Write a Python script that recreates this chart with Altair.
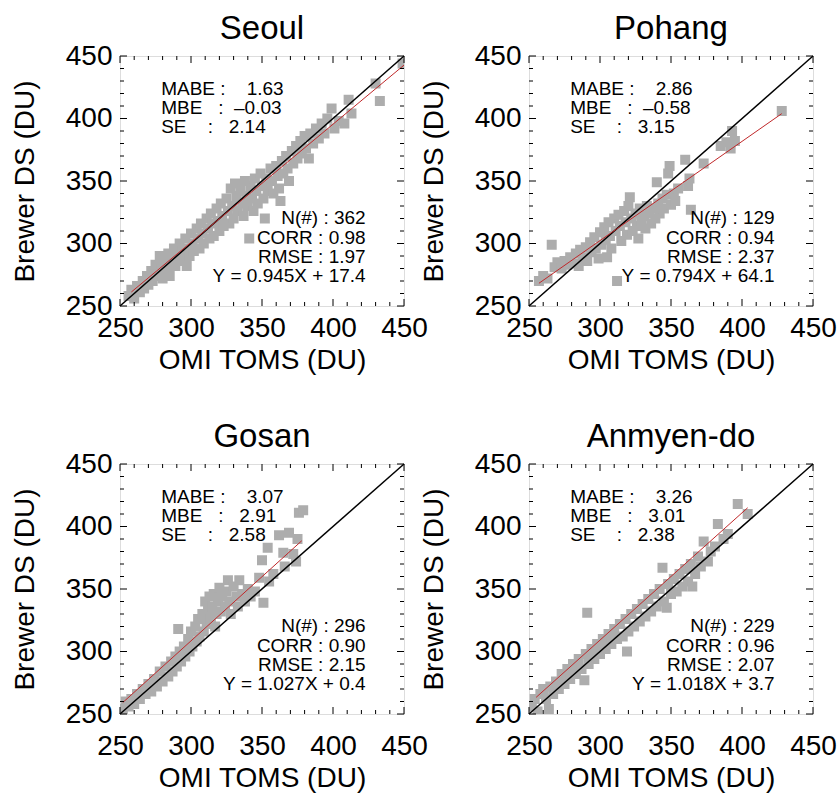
import altair as alt
import pandas as pd

FONT = "Liberation Sans"
NB = "\u00a0"

stations = ["Seoul", "Pohang", "Gosan", "Anmyen-do"]

seoul_pts = [(256,258),(258,263),(260,256),(262,266),(264,261),(266,270),(267,264),(269,274),(270,267),(272,278),(273,270),(275,283),(276,274),(278,290),(279,279),(280,272),(281,286),(283,280),(284,292),(285,274),(286,286),(288,296),(289,282),(290,290),(292,300),(293,286),(294,294),(296,304),(297,282),(298,296),(299,290),(300,308),(301,300),(302,294),(304,312),(305,304),(306,296),(307,316),(308,308),(309,300),(311,320),(312,312),(313,304),(314,324),(315,316),(316,306),(318,328),(319,318),(320,310),(321,332),(322,322),(323,314),(325,336),(326,326),(327,316),(328,344),(329,330),(330,320),(331,348),(332,338),(333,326),(335,342),(336,332),(337,322),(338,350),(339,338),(340,330),(341,304),(342,346),(343,336),(344,326),(345,352),(346,342),(347,332),(349,356),(350,346),(351,336),(352,320),(353,352),(354,342),(356,360),(357,350),(358,340),(360,362),(361,354),(362,344),(363,334),(364,366),(365,356),(367,370),(368,360),(369,350),(371,374),(372,364),(374,378),(375,368),(377,382),(378,372),(380,386),(381,376),(383,368),(384,388),(386,380),(388,392),(390,384),(392,396),(394,388),(396,400),(399,408),(401,392),(404,398),(408,396),(411,415),(413,404),(430,428),(433,414),(449,444)]

pohang_pts = [(257,270),(260,274),(263,272),(266,299),(268,281),(270,285),(273,280),(275,286),(277,283),(279,289),(281,284),(283,292),(285,282),(286,295),(288,289),(290,297),(291,286),(293,301),(294,293),(296,305),(297,296),(299,288),(300,309),(301,299),(303,313),(304,303),(305,289),(306,317),(307,306),(308,296),(310,320),(311,310),(312,270),(313,323),(314,314),(315,302),(317,326),(318,317),(319,307),(320,330),(321,337),(322,320),(323,310),(325,324),(326,314),(327,304),(328,328),(329,318),(331,322),(332,312),(333,330),(335,324),(336,316),(338,328),(339,320),(340,349),(341,332),(342,324),(344,336),(345,328),(347,339),(348,356),(349,362),(350,331),(352,340),(353,334),(355,344),(360,367),(362,346),(363,352),(364,327),(373,364),(385,378),(389,381),(392,376),(395,382),(393,390),(428,406)]

gosan_pts = [(252,254),(254,260),(256,256),(258,262),(260,258),(262,266),(264,262),(266,270),(268,266),(270,274),(272,268),(274,278),(276,272),(278,284),(280,276),(282,288),(284,280),(286,292),(287,284),(289,296),(290,288),(291,318),(292,300),(293,292),(295,304),(296,296),(298,310),(299,300),(300,316),(301,304),(303,320),(304,308),(305,326),(306,312),(308,330),(309,316),(310,340),(311,322),(312,334),(313,344),(314,326),(315,336),(316,346),(317,320),(318,330),(319,340),(320,351),(321,332),(322,344),(324,336),(325,348),(326,357),(327,340),(328,330),(330,352),(332,344),(333,336),(334,357),(336,346),(338,340),(340,350),(342,344),(345,348),(348,359),(350,373),(351,339),(354,383),(355,356),(358,362),(362,393),(365,379),(366,368),(369,395),(372,378),(374,372),(375,390),(376,411),(379,413)]

anmyen_pts = [(252,256),(254,262),(256,252),(258,266),(260,270),(262,262),(264,254),(265,272),(267,266),(269,276),(271,270),(273,282),(275,274),(277,286),(279,278),(281,290),(283,282),(285,294),(287,286),(289,277),(290,298),(291,331),(292,290),(294,302),(296,294),(298,306),(300,298),(302,310),(304,302),(306,314),(308,306),(310,318),(312,310),(314,322),(316,312),(318,326),(319,300),(320,316),(322,330),(324,320),(326,334),(328,324),(330,338),(332,328),(334,342),(336,332),(338,346),(340,336),(342,350),(344,367),(345,340),(347,335),(348,354),(350,346),(352,358),(354,348),(356,362),(358,352),(360,366),(362,356),(364,370),(365,352),(367,362),(369,376),(371,368),(373,388),(376,372),(378,380),(381,384),(383,402),(387,390),(390,394),(397,418),(404,410)]

points = [seoul_pts, pohang_pts, gosan_pts, anmyen_pts]

# regression line end points
fit_x = [[258, 450], [257, 428], [252, 378], [255, 404]]
fit_y = [[261.2, 442.7], [268.2, 403.9], [259.2, 388.6], [263.3, 415.0]]
one_to_one = [250, 450]

mabe = ["1.63", "2.86", "3.07", "3.26"]
mbe = ["\u20130.03", "\u20130.58", " 2.91", " 3.01"]
se = ["2.14", "3.15", "2.58", "2.38"]
n_obs = ["362", "129", "296", "229"]
corr = ["0.98", "0.94", "0.90", "0.96"]
rmse = ["1.97", "2.37", "2.15", "2.07"]
eqn = ["Y = 0.945X + 17.4", "Y = 0.794X + 64.1", "Y = 1.027X + 0.4", "Y = 1.018X + 3.7"]

major_ticks = [250, 300, 350, 400, 450]
minor_ticks = [v for v in range(260, 450, 10) if v % 50 != 0]

W, H = 284, 250
sx = alt.Scale(domain=[250, 450], nice=False, zero=False)
sy = alt.Scale(domain=[250, 450], nice=False, zero=False)


def nb(s):
    return s.replace(" ", NB)


def panel(i, xpad):
    pts = pd.DataFrame({"x": [p[0] for p in points[i]], "y": [p[1] for p in points[i]]})
    xax = alt.Axis(values=major_ticks, ticks=False, domain=False, grid=False,
                   labelFontSize=28, titleFontSize=28, labelPadding=xpad, titlePadding=4,
                   title="OMI TOMS (DU)", labelFlush=False, labelOverlap=False,
                   titleFontWeight="normal", labelFontWeight="normal",
                   labelFont=FONT, titleFont=FONT, labelColor="black", titleColor="black")
    yax = alt.Axis(values=major_ticks, ticks=False, domain=False, grid=False,
                   labelFontSize=28, titleFontSize=28, labelPadding=8, titlePadding=26,
                   title="Brewer DS (DU)", labelFlush=False, labelOverlap=False,
                   titleFontWeight="normal", labelFontWeight="normal",
                   labelFont=FONT, titleFont=FONT, labelColor="black", titleColor="black")
    scatter = alt.Chart(pts).mark_point(shape="square", filled=True, size=100,
                                        color="#adadad", opacity=1, clip=True).encode(
        x=alt.X("x:Q", scale=sx, axis=xax), y=alt.Y("y:Q", scale=sy, axis=yax))
    diag = alt.Chart(pd.DataFrame({"x": one_to_one, "y": one_to_one})).mark_line(
        color="black", strokeWidth=1.5).encode(
        x=alt.X("x:Q", scale=sx), y=alt.Y("y:Q", scale=sy))
    fit = alt.Chart(pd.DataFrame({"x": fit_x[i], "y": fit_y[i]})).mark_line(
        color="#c0282a", strokeWidth=1).encode(
        x=alt.X("x:Q", scale=sx), y=alt.Y("y:Q", scale=sy))
    left = pd.DataFrame({
        "x": [279, 279, 279], "y": [424, 408.5, 393],
        "t": [nb("MABE :    " + mabe[i]), nb("MBE   :  " + mbe[i]), nb("SE    :   " + se[i])]})
    right = pd.DataFrame({
        "x": [423, 423, 423, 423], "y": [320.5, 304.5, 289.5, 274],
        "t": [nb("N(#) : " + n_obs[i]), nb("CORR : " + corr[i]), nb("RMSE : " + rmse[i]), nb(eqn[i])]})
    tl = alt.Chart(left).mark_text(align="left", baseline="middle", fontSize=19, font=FONT,
                                   color="black").encode(
        x=alt.X("x:Q", scale=sx), y=alt.Y("y:Q", scale=sy), text="t:N")
    tr = alt.Chart(right).mark_text(align="right", baseline="middle", fontSize=19, font=FONT,
                                    color="black").encode(
        x=alt.X("x:Q", scale=sx), y=alt.Y("y:Q", scale=sy), text="t:N")
    layers = [scatter, diag, fit, tl, tr]
    for vals, ln in ((major_ticks, 7), (minor_ticks, 4)):
        b = alt.Chart(pd.DataFrame({"v": vals}))
        layers.append(b.mark_rule(color="black", strokeWidth=1).encode(
            x=alt.X("v:Q", scale=sx), y=alt.value(H), y2=alt.value(H - ln)))
        layers.append(b.mark_rule(color="black", strokeWidth=1).encode(
            x=alt.X("v:Q", scale=sx), y=alt.value(0), y2=alt.value(ln)))
        layers.append(b.mark_rule(color="black", strokeWidth=1).encode(
            y=alt.Y("v:Q", scale=sy), x=alt.value(0), x2=alt.value(ln)))
        layers.append(b.mark_rule(color="black", strokeWidth=1).encode(
            y=alt.Y("v:Q", scale=sy), x=alt.value(W), x2=alt.value(W - ln)))
    return alt.layer(*layers).properties(
        width=W, height=H,
        title=alt.Title(stations[i], fontSize=33, fontWeight="normal", font=FONT,
                        color="black", offset=-4))


chart = alt.concat(panel(0, 8), panel(1, 8), panel(2, 18), panel(3, 18), columns=2,
                   spacing={"row": 158, "column": 125}, bounds="flush").properties(
    padding={"left": 10, "top": 12, "right": 2, "bottom": 0}
).configure_view(stroke="black", strokeWidth=1.2).configure(background="white")

chart.save("out.html", embed_options={"renderer": "svg", "actions": False})
